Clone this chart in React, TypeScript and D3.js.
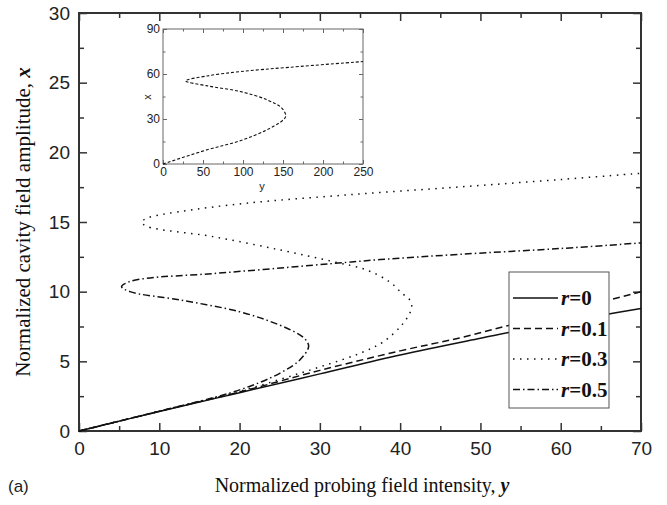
import React, { useRef, useEffect } from 'react';
import * as d3 from 'd3';

// main plot ticks
const xMajor = [0, 10, 20, 30, 40, 50, 60, 70];
const xMinor = [5, 15, 25, 35, 45, 55, 65];
const yMajor = [0, 5, 10, 15, 20, 25, 30];
const yMinor = [2.5, 7.5, 12.5, 17.5, 22.5, 27.5];

// curves: probing intensity (y, horizontal) and cavity amplitude (x, vertical), in drawing order
const r0Y = [0, 10, 20, 30, 40, 50, 60, 70];
const r0X = [0, 1.4, 2.75, 4.1, 5.45, 6.65, 7.8, 8.8];

const r01Y = [0, 10, 20, 30, 40, 47.4, 53.7, 60, 70];
const r01X = [0, 1.42, 2.8, 4.35, 5.75, 6.68, 7.6, 8.5, 10.0];

const r03Y = [0, 10, 20, 30, 35, 37.9, 40.2, 41.2, 41.45, 41.2, 40.2, 38.7, 35.8, 31.7, 25.0, 16.7, 8.4, 7.8, 8.6, 12.6, 20.9, 33.3, 47.0, 60, 70];
const r03X = [0, 1.42, 2.85, 4.6, 5.58, 6.4, 7.6, 8.45, 8.9, 9.4, 9.9, 10.7, 11.56, 12.15, 13.0, 13.95, 14.7, 15.0, 15.3, 15.75, 16.35, 16.94, 17.5, 18.05, 18.5];

const r05Y = [0, 10, 20, 25, 27.5, 28.6, 28.3, 27.5, 25, 20, 12.6, 6.35, 5.3, 6.2, 8.4, 16.7, 29.2, 37.5, 47.4, 60, 70];
const r05X = [0, 1.42, 2.95, 4.14, 5.1, 6.05, 6.5, 6.9, 7.6, 8.56, 9.4, 10.0, 10.36, 10.7, 10.96, 11.3, 11.9, 12.3, 12.68, 13.1, 13.5];

const legendLabels = ['0', '0.1', '0.3', '0.5'];

// inset
const insetXTicks = [0, 50, 100, 150, 200, 250];
const insetXMinor = [25, 75, 125, 175, 225];
const insetYTicks = [0, 30, 60, 90];
const insetYMinor = [15, 45, 75];
const insetY = [0, 55.2, 96.6, 130, 150.5, 153.5, 148.5, 130, 96.6, 55.2, 28.2, 55.2, 96.6, 158.6, 250];
const insetX = [0, 9.5, 15.5, 22.8, 29.5, 32.1, 37.3, 42.8, 48.3, 52.1, 55.4, 58.7, 61.6, 64.5, 68.3];

const W = 667;
const H = 505;

const App = () => {
  const svgRef = useRef<SVGSVGElement | null>(null);

  useEffect(() => {
    const svg = d3.select(svgRef.current);
    svg.selectAll('*').remove();

    const left = 79, right = 641, top = 13, bottom = 431;
    const x = d3.scaleLinear().domain([0, 70]).range([left, right]);
    const y = d3.scaleLinear().domain([0, 30]).range([bottom, top]);
    const axisColor = '#333';
    const sans = '"Liberation Sans", Arial, sans-serif';
    const serif = '"Liberation Serif", "Times New Roman", serif';

    const styleAxis = (g: any, fs: number, color: string, width: number) => {
      g.select('.domain').remove();
      g.selectAll('line').attr('stroke', color).attr('stroke-width', width);
      g.selectAll('text').style('font-family', sans).style('font-size', fs + 'px').attr('fill', '#222');
    };

    // ticks on all four sides, pointing inward
    const mk = (axis: any, vals: number[], size: number, label: boolean, pad: number) =>
      axis.tickValues(vals).tickSize(-size).tickPadding(pad).tickFormat(label ? d3.format('d') : () => '');

    const addAxis = (gen: any, tr: string, fs: number, color: string, width: number) =>
      svg.append('g').attr('transform', tr).call(gen).call((g: any) => styleAxis(g, fs, color, width));

    addAxis(mk(d3.axisBottom(x), xMajor, 8, true, 11), `translate(0,${bottom})`, 19, axisColor, 1.5);
    addAxis(mk(d3.axisBottom(x), xMinor, 5, false, 0), `translate(0,${bottom})`, 19, axisColor, 1.5);
    addAxis(mk(d3.axisTop(x), xMajor, 8, false, 0), `translate(0,${top})`, 19, axisColor, 1.5);
    addAxis(mk(d3.axisTop(x), xMinor, 5, false, 0), `translate(0,${top})`, 19, axisColor, 1.5);
    addAxis(mk(d3.axisLeft(y), yMajor, 8, true, 9), `translate(${left},0)`, 19, axisColor, 1.5);
    addAxis(mk(d3.axisLeft(y), yMinor, 5, false, 0), `translate(${left},0)`, 19, axisColor, 1.5);
    addAxis(mk(d3.axisRight(y), yMajor, 8, false, 0), `translate(${right},0)`, 19, axisColor, 1.5);
    addAxis(mk(d3.axisRight(y), yMinor, 5, false, 0), `translate(${right},0)`, 19, axisColor, 1.5);

    svg.append('rect')
      .attr('x', left).attr('y', top)
      .attr('width', right - left).attr('height', bottom - top)
      .attr('fill', 'none').attr('stroke', axisColor).attr('stroke-width', 2);

    // curves
    const line = d3.line<[number, number]>()
      .x(d => x(d[0]))
      .y(d => y(d[1]))
      .curve(d3.curveCatmullRom.alpha(0.5));

    const series = [
      { ys: r0Y, xs: r0X, dash: null },
      { ys: r01Y, xs: r01X, dash: '7,4' },
      { ys: r03Y, xs: r03X, dash: '1.5,5.5' },
      { ys: r05Y, xs: r05X, dash: '7,3,1.5,3' },
    ];

    const plot = svg.append('g');
    series.forEach(s => {
      const pts = s.ys.map((v, i) => [v, s.xs[i]] as [number, number]);
      plot.append('path')
        .attr('d', line(pts))
        .attr('fill', 'none')
        .attr('stroke', '#111')
        .attr('stroke-width', 1.5)
        .attr('stroke-dasharray', s.dash);
    });

    // legend
    const lg = svg.append('g');
    lg.append('rect')
      .attr('x', 509).attr('y', 272).attr('width', 100).attr('height', 136)
      .attr('fill', '#fff').attr('stroke', '#555').attr('stroke-width', 1);
    series.forEach((s, i) => {
      const yy = 298 + i * 30.5;
      lg.append('line')
        .attr('x1', 513).attr('x2', 558).attr('y1', yy).attr('y2', yy)
        .attr('stroke', '#111').attr('stroke-width', 1.5)
        .attr('stroke-dasharray', s.dash);
      const t = lg.append('text')
        .attr('x', 561).attr('y', yy + 7)
        .style('font-family', serif).style('font-size', '21px').style('font-weight', 'bold')
        .attr('fill', '#111');
      t.append('tspan').style('font-style', 'italic').text('r');
      t.append('tspan').text('=' + legendLabels[i]);
    });

    // inset
    const il = 163, ir = 363, it = 29, ib = 164;
    const ix = d3.scaleLinear().domain([0, 250]).range([il, ir]);
    const iy = d3.scaleLinear().domain([0, 90]).range([ib, it]);
    svg.append('rect').attr('x', il).attr('y', it).attr('width', ir - il).attr('height', ib - it).attr('fill', '#fff');
    const ic = '#666';
    addAxis(mk(d3.axisBottom(ix), insetXTicks, 4, true, 3), `translate(0,${ib})`, 12, ic, 1);
    addAxis(mk(d3.axisBottom(ix), insetXMinor, 2.5, false, 0), `translate(0,${ib})`, 12, ic, 1);
    addAxis(mk(d3.axisTop(ix), insetXTicks, 4, false, 0), `translate(0,${it})`, 12, ic, 1);
    addAxis(mk(d3.axisTop(ix), insetXMinor, 2.5, false, 0), `translate(0,${it})`, 12, ic, 1);
    addAxis(mk(d3.axisLeft(iy), insetYTicks, 4, true, 3), `translate(${il},0)`, 12, ic, 1);
    addAxis(mk(d3.axisLeft(iy), insetYMinor, 2.5, false, 0), `translate(${il},0)`, 12, ic, 1);
    addAxis(mk(d3.axisRight(iy), insetYTicks, 4, false, 0), `translate(${ir},0)`, 12, ic, 1);
    addAxis(mk(d3.axisRight(iy), insetYMinor, 2.5, false, 0), `translate(${ir},0)`, 12, ic, 1);
    svg.append('rect').attr('x', il).attr('y', it).attr('width', ir - il).attr('height', ib - it)
      .attr('fill', 'none').attr('stroke', ic).attr('stroke-width', 1);

    const iline = d3.line<[number, number]>()
      .x(d => ix(d[0]))
      .y(d => iy(d[1]))
      .curve(d3.curveCatmullRom.alpha(0.5));
    svg.append('path')
      .attr('d', iline(insetY.map((v, i) => [v, insetX[i]] as [number, number])))
      .attr('fill', 'none').attr('stroke', '#111').attr('stroke-width', 1.1)
      .attr('stroke-dasharray', '3,2');

    svg.append('text')
      .attr('x', 262).attr('y', 190).attr('text-anchor', 'middle')
      .style('font-family', sans).style('font-size', '11px').attr('fill', '#222').text('y');
    svg.append('text')
      .attr('transform', 'translate(151,97) rotate(-90)').attr('text-anchor', 'middle')
      .style('font-family', sans).style('font-size', '11px').attr('fill', '#222').text('x');

    // axis titles
    const xt = svg.append('text')
      .attr('x', 362).attr('y', 492).attr('text-anchor', 'middle')
      .style('font-family', serif).style('font-size', '20px').attr('fill', '#111');
    xt.append('tspan').text('Normalized probing field intensity, ');
    xt.append('tspan').style('font-style', 'italic').style('font-weight', 'bold').text('y');

    const yt = svg.append('text')
      .attr('transform', 'translate(30,222) rotate(-90)').attr('text-anchor', 'middle')
      .style('font-family', serif).style('font-size', '21px').attr('fill', '#111');
    yt.append('tspan').text('Normalized cavity field amplitude, ');
    yt.append('tspan').style('font-style', 'italic').style('font-weight', 'bold').text('x');

    svg.append('text')
      .attr('x', 8).attr('y', 492)
      .style('font-family', sans).style('font-size', '17px').attr('fill', '#222').text('(a)');
  }, []);

  return (
    <svg ref={svgRef} width={W} height={H} style={{ display: 'block', position: 'absolute', left: 0, top: 0 }} />
  );
};

export default App;
